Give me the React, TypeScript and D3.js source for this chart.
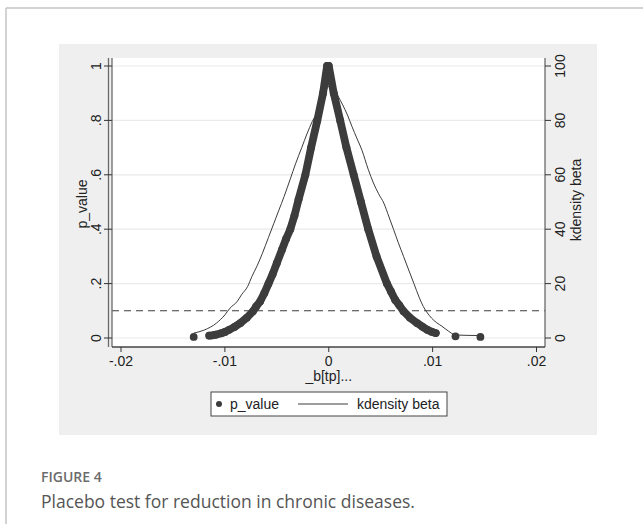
import * as d3 from "d3";

// placebo coefficients and their p-values
const betaValues = [
  -0.013, -0.0115, -0.0112, -0.0109, -0.0103, -0.01, -0.0096, -0.0091, -0.0085, -0.0079,
  -0.0073, -0.007, -0.0066, -0.0062, -0.0058, -0.0054, -0.005, -0.0045, -0.0041, -0.0037,
  -0.0033, -0.0029, -0.00225, -0.0017, -0.0011, -0.00055, -0.00016, 0, 0.00048, 0.0011,
  0.0017, 0.0024, 0.0031, 0.0038, 0.0046, 0.0056, 0.006, 0.0064, 0.0068, 0.0072,
  0.0078, 0.0085, 0.009, 0.0095, 0.0099, 0.0103, 0.0122, 0.0146
];
const pValues = [
  0.004, 0.009, 0.01, 0.012, 0.018, 0.022, 0.03, 0.04, 0.055, 0.074,
  0.098, 0.115, 0.135, 0.165, 0.2, 0.235, 0.275, 0.325, 0.365, 0.4,
  0.45, 0.51, 0.6, 0.7, 0.8, 0.9, 1.0, 1.0, 0.9, 0.8,
  0.7, 0.6, 0.5, 0.4, 0.3, 0.2, 0.17, 0.14, 0.12, 0.098,
  0.075, 0.055, 0.042, 0.03, 0.023, 0.018, 0.006, 0.004
];

// kernel density of beta
const densityBeta = [
  -0.013, -0.012, -0.0108, -0.01, -0.0095, -0.0088, -0.0084, -0.0078, -0.0074, -0.0069,
  -0.0064, -0.0058, -0.0053, -0.0048, -0.0043, -0.0037, -0.0032, -0.0026, -0.0021, -0.0016,
  -0.0011, -0.0006, -0.0002, 0.0002, 0.00064, 0.0013, 0.0018, 0.00224, 0.0027, 0.0032,
  0.0038, 0.0043, 0.0048, 0.0053, 0.0058, 0.00625, 0.0067, 0.0072, 0.0077, 0.0082,
  0.0087, 0.0091, 0.0095, 0.0099, 0.0104, 0.0109, 0.0115, 0.0122, 0.0146
];
const densityValues = [
  1.8, 2.9, 5.5, 8.5, 11, 13.5, 15.9, 19, 22.6, 26.5,
  31, 37, 42, 47, 52, 58.5, 64, 70, 75, 79.5,
  83, 88, 91.5, 93, 90.6, 86, 82, 77.7, 73.5, 69,
  62, 57, 53, 49.6, 44.5, 39.8, 35, 30, 25, 20,
  15, 11.6, 9.2, 7.3, 5.6, 4.3, 2.6, 1.1, 0.9
];

const leftTicks = [0, 0.2, 0.4, 0.6, 0.8, 1];
const leftTickLabels = ["0", ".2", ".4", ".6", ".8", "1"];
const rightTicks = [0, 20, 40, 60, 80, 100];
const xTicks = [-0.02, -0.01, 0, 0.01, 0.02];
const xTickLabels = ["-.02", "-.01", "0", ".01", ".02"];
const cutoff = 0.1;

const font = "'Liberation Sans', Arial, sans-serif";
const ink = "#3c3c3c";

export default function App() {
  const width = 643;
  const height = 524;
  const plot = { left: 112, right: 545, top: 58, bottom: 347 };

  const x = d3.scaleLinear().domain([-0.02, 0.02]).range([121, 536.5]);
  const y = d3.scaleLinear().domain([0, 1]).range([338, 66]);
  const y2 = d3.scaleLinear().domain([0, 100]).range([338, 66]);

  const pts = betaValues.map((b, i) => ({ px: x(b), py: y(pValues[i]) }));
  // join neighbouring markers into one band where they sit close together
  const bands: { px: number; py: number }[][] = [];
  pts.forEach((p, i) => {
    const prev = pts[i - 1];
    if (prev && Math.abs(p.px - prev.px) < 12) {
      bands[bands.length - 1].push(p);
    } else {
      bands.push([p]);
    }
  });
  const bandLine = d3
    .line<{ px: number; py: number }>()
    .x((d) => d.px)
    .y((d) => d.py);

  const densityLine = d3
    .line<number>()
    .x((_, i) => x(densityBeta[i]))
    .y((d) => y2(d))
    .curve(d3.curveMonotoneX);

  return (
    <svg
      width={width}
      height={height}
      style={{ position: "absolute", left: 0, top: 0, background: "#fff" }}
      fontFamily={font}
    >
      {/* card border */}
      <line x1={6} x2={6} y1={8} y2={height} stroke="#c4c4c4" strokeWidth={1.5} />
      <line x1={6} x2={width} y1={8} y2={8} stroke="#c4c4c4" strokeWidth={1.5} />

      <rect x={59} y={44} width={538} height={391} fill="#efefef" />
      <rect x={plot.left} y={plot.top} width={plot.right - plot.left} height={plot.bottom - plot.top} fill="#fff" />

      {leftTicks.map((t) => (
        <line key={t} x1={plot.left} x2={plot.right} y1={y(t)} y2={y(t)} stroke="#eaeaea" strokeWidth={1.2} />
      ))}

      <line
        x1={plot.left}
        x2={plot.right}
        y1={y(cutoff)}
        y2={y(cutoff)}
        stroke={ink}
        strokeWidth={1.1}
        strokeDasharray="7 5"
      />

      {/* left axis */}
      <line x1={108.5} x2={108.5} y1={plot.top} y2={plot.bottom} stroke="#6a6a6a" strokeWidth={1.3} />
      <line x1={112} x2={112} y1={plot.top} y2={plot.bottom} stroke="#6a6a6a" strokeWidth={1.3} />
      {leftTicks.map((t, i) => (
        <g key={t}>
          <line x1={104} x2={112} y1={y(t)} y2={y(t)} stroke="#333" strokeWidth={1} />
          <text transform={`translate(101,${y(t)}) rotate(-90)`} textAnchor="middle" fontSize={14} fill="#222">
            {leftTickLabels[i]}
          </text>
        </g>
      ))}
      <text transform="translate(87,204) rotate(-90)" textAnchor="middle" fontSize={14} fill="#222">
        p_value
      </text>

      {/* right axis */}
      <line x1={plot.right} x2={plot.right} y1={plot.top} y2={plot.bottom} stroke="#6a6a6a" strokeWidth={1.3} />
      {rightTicks.map((t) => (
        <g key={t}>
          <line x1={plot.right} x2={plot.right + 6} y1={y2(t)} y2={y2(t)} stroke="#333" strokeWidth={1} />
          <text transform={`translate(565,${y2(t)}) rotate(-90)`} textAnchor="middle" fontSize={14} fill="#222">
            {t}
          </text>
        </g>
      ))}
      <text transform="translate(581,200) rotate(-90)" textAnchor="middle" fontSize={14} fill="#222">
        kdensity beta
      </text>

      {/* bottom axis */}
      <line x1={plot.left} x2={plot.right} y1={plot.bottom} y2={plot.bottom} stroke="#444" strokeWidth={1.3} />
      {xTicks.map((t, i) => (
        <g key={t}>
          <line x1={x(t)} x2={x(t)} y1={plot.bottom} y2={plot.bottom + 5} stroke="#333" strokeWidth={1} />
          <text x={x(t)} y={366} textAnchor="middle" fontSize={14} fill="#222">
            {xTickLabels[i]}
          </text>
        </g>
      ))}
      <text x={x(0)} y={381} textAnchor="middle" fontSize={14} fill="#222">
        _b[tp]...
      </text>

      {/* p-value markers */}
      {bands
        .filter((b) => b.length > 1)
        .map((b, i) => (
          <path
            key={i}
            d={bandLine(b) ?? ""}
            fill="none"
            stroke={ink}
            strokeWidth={7.8}
            strokeLinecap="round"
            strokeLinejoin="round"
          />
        ))}
      {pts.map((p, i) => (
        <circle key={i} cx={p.px} cy={p.py} r={3.9} fill={ink} />
      ))}

      <path d={densityLine(densityValues) ?? ""} fill="none" stroke={ink} strokeWidth={1} />

      {/* legend */}
      <rect x={211} y={392} width={236} height={24} fill="#fff" stroke="#444" strokeWidth={1} />
      <circle cx={219} cy={404} r={3} fill={ink} />
      <text x={230} y={409} fontSize={14} fill="#222">
        p_value
      </text>
      <line x1={298} x2={348} y1={404} y2={404} stroke={ink} strokeWidth={1} />
      <text x={357} y={409} fontSize={14} fill="#222">
        kdensity beta
      </text>

      {/* caption */}
      <text x={41} y={482} fontSize={14} fontWeight={600} fill="#6b6b6b" fontFamily="'Open Sans', sans-serif">
        FIGURE 4
      </text>
      <text x={41} y={508} fontSize={17.5} fill="#555" fontFamily="'Open Sans', sans-serif">
        Placebo test for reduction in chronic diseases.
      </text>
    </svg>
  );
}
